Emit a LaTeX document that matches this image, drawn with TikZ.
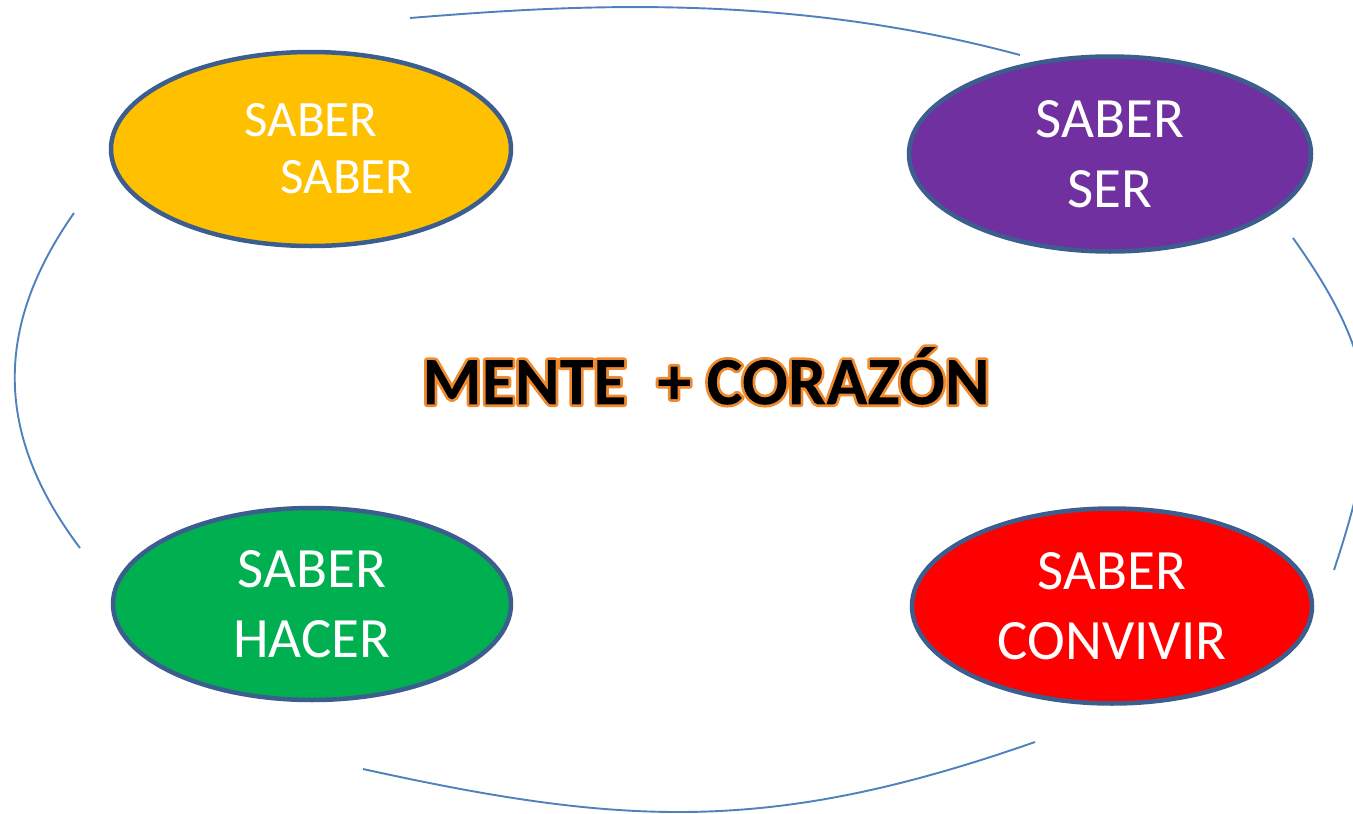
\documentclass[tikz,border=0pt]{standalone}
\usepackage{fontspec}
\setmainfont{Carlito}
\usetikzlibrary{shapes.geometric}
\definecolor{rimblue}{HTML}{3B5E8E}
\definecolor{arcblue}{HTML}{4F81BD}
\definecolor{cyel}{HTML}{FFC000}
\definecolor{cpur}{HTML}{7030A0}
\definecolor{cgrn}{HTML}{00B050}
\definecolor{cred}{HTML}{FF0000}
% stroke the glyphs in orange and clip to them, then fill the clip in black
\newcommand{\glowtext}[1]{\special{pdf:literal 5 Tr 5.5 w 1 j 0.94 0.54 0.18 RG}#1\special{pdf:literal 0 Tr 0 g -3000 -3000 6000 6000 re f}}
\tikzset{
  ell/.style={ellipse, draw=rimblue, line width=4.5pt, inner sep=0pt,
    minimum width=400pt, minimum height=194pt, text=white, align=center},
  bigtxt/.style={font=\fontsize{57}{70}\selectfont},
  smalltxt/.style={font=\fontsize{51}{57}\selectfont},
  loop/.style={draw=arcblue, line width=1.9pt},
  ctr/.style={font=\fontsize{68}{80}\selectfont\bfseries, inner sep=0pt, text=black}
}
\begin{document}
\begin{tikzpicture}[x=1pt,y=-1pt]
\useasboundingbox (0,0) rectangle (1353,814);
\fill[white] (0,0) rectangle (1353,814);
% outer arcs
\coordinate (ta) at (410,18);
\coordinate (tb) at (1020,55);
\coordinate (la) at (74,213);
\coordinate (lb) at (80,548);
\coordinate (ra) at (1293,238);
\coordinate (rb) at (1334,570);
\coordinate (ba) at (363,769);
\coordinate (bb) at (1035,742);
\draw[loop] (ta) .. controls (560,6) and (778,-10) .. (tb);
\draw[loop] (la) .. controls (-6,327) and (-6,434) .. (lb);
\draw[loop] (ra) .. controls (1382,363) and (1382,425) .. (rb);
\draw[loop] (ba) .. controls (626,827) and (772,834) .. (bb);
% ellipses
\node[ell, fill=cyel, smalltxt] (ss) at (311,149) {SABER\\\hspace*{72pt}SABER};
\node[ell, fill=cpur, bigtxt, minimum width=402pt, minimum height=195pt] (ser) at (1110,154) {SABER\\SER};
\node[ell, fill=cgrn, bigtxt, minimum width=398pt, minimum height=192pt] (hac) at (312,604) {SABER\\HACER};
\node[ell, fill=cred, bigtxt, minimum width=400pt, minimum height=195pt] (con) at (1112,606) {SABER\\CONVIVIR};
% center
\node[ctr] (mc) at (706,376) {\glowtext{MENTE\ \ + CORAZÓN}};
\end{tikzpicture}
\end{document}
